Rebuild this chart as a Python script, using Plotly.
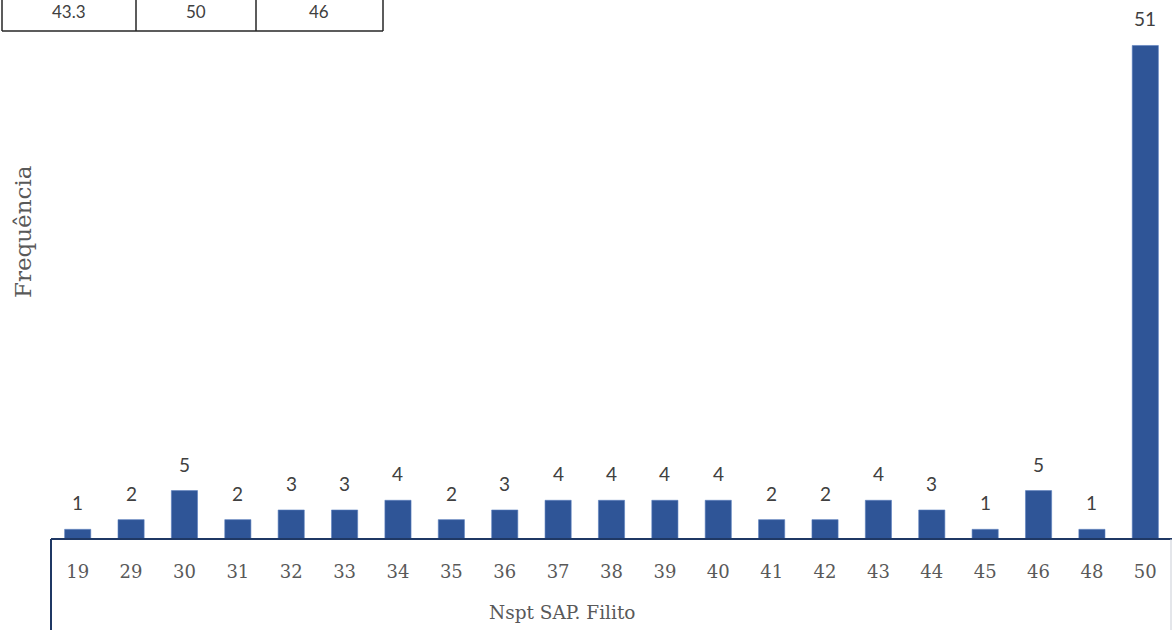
import plotly.graph_objects as go

# Nspt classes and how often each occurs
nspt_classes = ["19", "29", "30", "31", "32", "33", "34", "35", "36", "37", "38",
                "39", "40", "41", "42", "43", "44", "45", "46", "48", "50"]
frequencies = [1, 2, 5, 2, 3, 3, 4, 2, 3, 4, 4, 4, 4, 2, 2, 4, 3, 1, 5, 1, 51]

# summary row shown in the small table at the top left
summary_values = ["43.3", "50", "46"]

W, H = 1172, 630
X0 = 51            # left edge of plot area (px)
PLOT_BOTTOM = 539  # pixel row of the baseline
BAR_COLOR = "#2F5597"
AXIS_COLOR = "#1F3864"
TEXT_GRAY = "#595959"
SERIF = "DejaVu Serif, serif"
SANS = "Lato, Open Sans, sans-serif"

fig = go.Figure()
fig.add_trace(go.Bar(
    x=nspt_classes,
    y=frequencies,
    marker=dict(color=BAR_COLOR, line=dict(color="#5B7FC0", width=0.6)),
    hoverinfo="skip",
))

def px_x(px):
    return px / W

def px_y(py):
    return (PLOT_BOTTOM - py) / PLOT_BOTTOM

shapes = []
# baseline across the plot
shapes.append(dict(type="line", xref="paper", yref="paper",
                   x0=px_x(X0), x1=1.0, y0=0, y1=0,
                   line=dict(color=AXIS_COLOR, width=2)))
# frame lines below the baseline
shapes.append(dict(type="line", xref="paper", yref="paper",
                   x0=px_x(X0), x1=px_x(X0), y0=0, y1=px_y(632),
                   line=dict(color=AXIS_COLOR, width=2)))
shapes.append(dict(type="line", xref="paper", yref="paper",
                   x0=px_x(1171), x1=px_x(1171), y0=0, y1=px_y(632),
                   line=dict(color="#C9CDD6", width=1)))

# small summary table at the top left
table_cols = [2, 136, 256, 383]
for cx in table_cols:
    shapes.append(dict(type="line", xref="paper", yref="paper",
                       x0=px_x(cx), x1=px_x(cx), y0=px_y(31), y1=1.02,
                       line=dict(color="#262626", width=1.5)))
shapes.append(dict(type="line", xref="paper", yref="paper",
                   x0=px_x(table_cols[0]), x1=px_x(table_cols[-1]),
                   y0=px_y(31), y1=px_y(31),
                   line=dict(color="#262626", width=1.5)))

annotations = []
for i, val in enumerate(summary_values):
    cx = (table_cols[i] + table_cols[i + 1]) / 2
    annotations.append(dict(
        x=px_x(cx), y=px_y(11), xref="paper", yref="paper",
        text=val, showarrow=False,
        font=dict(family=SANS, size=17, color="#404040"),
        xanchor="center", yanchor="middle"))

# value labels above the bars (category axis positions are indices)
for idx, val in enumerate(frequencies):
    annotations.append(dict(
        x=idx, y=val, xref="x", yref="y",
        text=str(val), showarrow=False,
        font=dict(family=SANS, size=19, color="#404040"),
        xanchor="center", yanchor="bottom", yshift=13))

# axis titles
annotations.append(dict(
    x=px_x(562), y=px_y(612), xref="paper", yref="paper",
    text="Nspt SAP. Filito", showarrow=False,
    font=dict(family=SERIF, size=18.5, color=TEXT_GRAY),
    xanchor="center", yanchor="middle"))
annotations.append(dict(
    x=px_x(23), y=px_y(232), xref="paper", yref="paper",
    text="Frequência", showarrow=False, textangle=-90,
    font=dict(family=SERIF, size=23, color=TEXT_GRAY),
    xanchor="center", yanchor="middle"))

fig.update_layout(
    width=W, height=H,
    margin=dict(l=0, r=0, t=0, b=H - PLOT_BOTTOM),
    paper_bgcolor="white", plot_bgcolor="white",
    showlegend=False,
    bargap=0.51,
    xaxis=dict(
        domain=[px_x(X0), 1.0],
        type="category",
        range=[-0.5, len(nspt_classes) - 0.5],
        tickmode="array", tickvals=nspt_classes, ticktext=nspt_classes,
        showline=False, showgrid=False, zeroline=False,
        ticks="", ticklabelstandoff=20,
        tickfont=dict(family=SERIF, size=18, color=TEXT_GRAY),
    ),
    yaxis=dict(
        range=[0, 55.7],
        showline=False, showgrid=False, zeroline=False,
        showticklabels=False, ticks="",
    ),
    shapes=shapes,
    annotations=annotations,
)

fig.write_html("out.html")
